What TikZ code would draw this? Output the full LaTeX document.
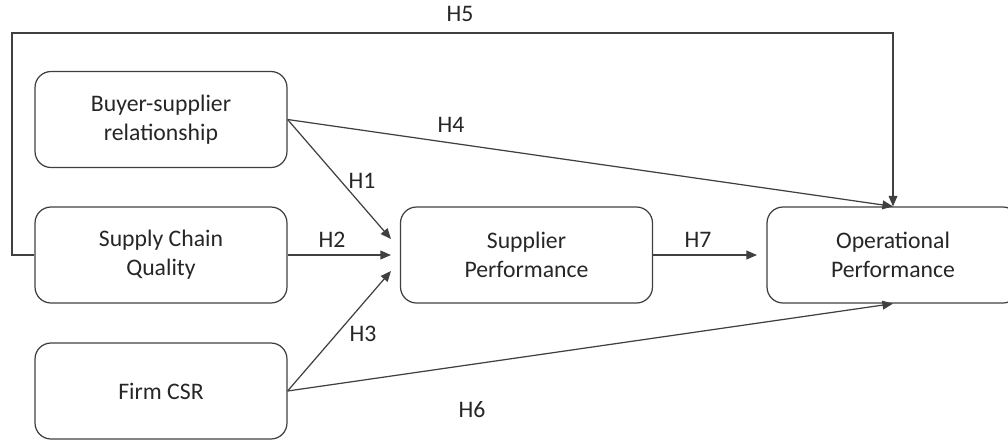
\documentclass[tikz,border=0pt]{standalone}
\usepackage{fontspec}
\setmainfont{Carlito}
\usetikzlibrary{arrows.meta}

\begin{document}
\begin{tikzpicture}[x=0.02cm, y=-0.02cm,
   box/.style={draw=black!75, line width=0.7pt, rounded corners=0.32cm, minimum width=5.04cm, minimum height=1.92cm, align=center, text=black!85, font=\fontsize{13.5}{16.5}\selectfont},
   hyp/.style={draw=black!75, line width=0.7pt, -{Triangle[length=6pt, width=5pt]}},
   lbl/.style={text=black!85, font=\fontsize{13.5}{16.5}\selectfont}]
\useasboundingbox (0,0) rectangle (1008,441);
\clip (0,0) rectangle (1008,441);
% constructs
\node[box] (buyer) at (161,119.5) {Buyer-supplier\\relationship};
\node[box] (scq) at (161,255) {Supply Chain\\Quality};
\node[box] (csr) at (161,391) {Firm CSR};
\node[box] (supp) at (526.5,255) {Supplier\\Performance};
\node[box] (oper) at (893,255) {Operational\\Performance};
% free ends
\coordinate (t1) at (391,239);
\coordinate (t2) at (391,255);
\coordinate (t3) at (391,271);
\coordinate (t7) at (757,255);
\coordinate (loop) at (12,33);
% paths
\draw[hyp] (buyer.east) -- (t1);
\draw[hyp] (scq.east) -- (t2);
\draw[hyp] (csr.east) -- (t3);
\draw[hyp] (buyer.east) -- (oper.north);
\draw[hyp] (csr.east) -- (oper.south);
\draw[hyp] (supp.east) -- (t7);
\draw[hyp] (scq.west) -| (loop) -| (oper.north);
% labels
\node[lbl] (h1) at (362,181) {H1};
\node[lbl] (h2) at (332,240) {H2};
\node[lbl] (h3) at (363,334) {H3};
\node[lbl] (h4) at (451,125) {H4};
\node[lbl] (h5) at (460,14) {H5};
\node[lbl] (h6) at (472,410) {H6};
\node[lbl] (h7) at (698,240) {H7};
\end{tikzpicture}
\end{document}
